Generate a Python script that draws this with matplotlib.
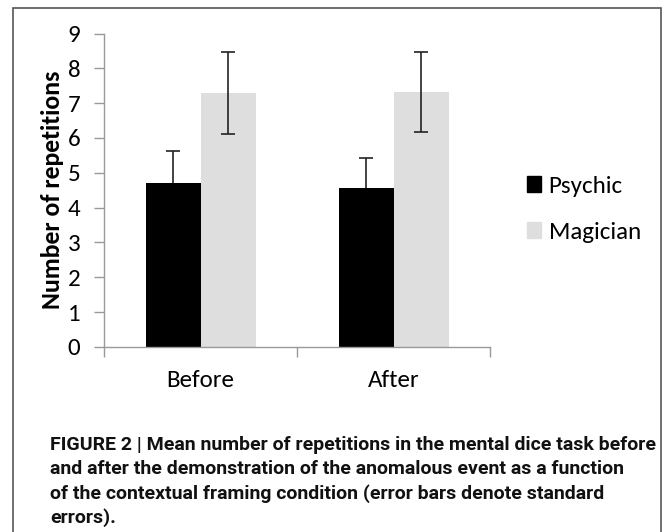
import matplotlib.pyplot as plt
import matplotlib.patches as mpatches
import numpy as np

conditions = ["Before", "After"]
psychic = [4.72, 4.57]
psychic_err = [0.90, 0.86]
magician = [7.29, 7.33]
magician_err = [1.19, 1.15]

caption = ("FIGURE 2 | Mean number of repetitions in the mental dice task before\n"
           "and after the demonstration of the anomalous event as a function\n"
           "of the contextual framing condition (error bars denote standard\n"
           "errors).")

plt.rcParams["font.family"] = ["Carlito", "DejaVu Sans"]

fig = plt.figure(figsize=(6.67, 5.32), dpi=100)
ax = fig.add_axes([0.156, 0.348, 0.579, 0.589])

x = np.arange(len(conditions))
w = 0.285
ax.bar(x - w / 2, psychic, w, color="black", label="Psychic", zorder=2)
ax.bar(x + w / 2, magician, w, color="#dedede", label="Magician", zorder=2)
# lower half of the psychic error bars sits behind the black bars
ax.errorbar(x - w / 2, psychic, yerr=psychic_err, fmt="none",
            ecolor="#222222", elinewidth=1.2, capsize=5, capthick=1.2, zorder=1)
ax.errorbar(x + w / 2, magician, yerr=magician_err, fmt="none",
            ecolor="#222222", elinewidth=1.2, capsize=5, capthick=1.2, zorder=3)

ax.set_xlim(-0.5, 1.5)
ax.set_ylim(0, 9)
ax.set_yticks(range(10))
ax.set_xticks(x)
ax.set_xticklabels(conditions)
ax.set_xticks([-0.5, 0.5, 1.5], minor=True)
ax.tick_params(axis="x", which="major", length=0, pad=17, labelsize=18)
ax.tick_params(axis="x", which="minor", length=7, color="#999999", width=1)
ax.tick_params(axis="y", length=7, color="#999999", width=1, labelsize=18, pad=10)
for s in ["top", "right"]:
    ax.spines[s].set_visible(False)
for s in ["left", "bottom"]:
    ax.spines[s].set_color("#999999")
    ax.spines[s].set_linewidth(1)
ax.set_ylabel("Number of repetitions", fontsize=18.5, fontweight="bold", labelpad=3)

handles = [mpatches.Patch(color="black"), mpatches.Patch(color="#dedede")]
fig.legend(handles, ["Psychic", "Magician"], loc="center left",
           bbox_to_anchor=(0.757, 0.606), frameon=False, fontsize=18,
           handlelength=0.55, handleheight=0.6, handletextpad=0.3, labelspacing=1.0)

fig.text(0.075, 0.18, caption, ha="left", va="top", fontsize=14,
         fontweight="bold", family=["Roboto", "DejaVu Sans"],
         linespacing=1.4, color="#111111")

border = mpatches.Rectangle((0.019, -0.02), 0.972, 1.005, transform=fig.transFigure,
                            fill=False, edgecolor="#555555", linewidth=1.2)
fig.patches.append(border)

fig.savefig("out.png", dpi=100)
